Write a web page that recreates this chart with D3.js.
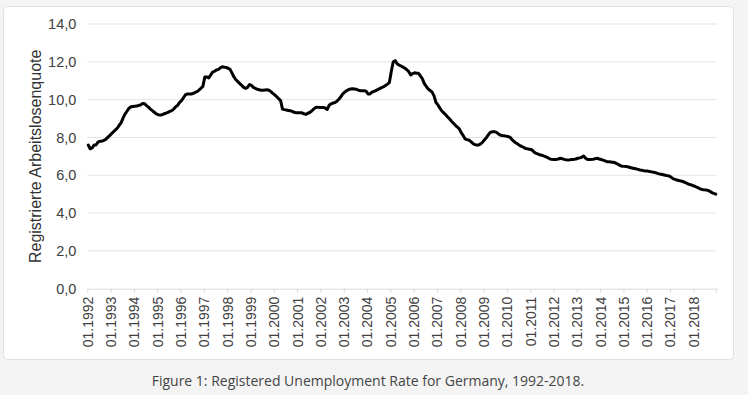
<!DOCTYPE html>
<html>
<head>
<meta charset="utf-8">
<script src="https://cdn.jsdelivr.net/npm/d3@7"></script>
<style>
  html, body { margin: 0; padding: 0; background: #f4f4f4; }
  svg { display: block; }
</style>
</head>
<body>
<svg id="chart"></svg>
<script>
// Registered unemployment rate, monthly, 01.1992 - 12.2018 (one row per year)
const rates = [
  7.6, 7.4, 7.45, 7.6, 7.6, 7.75, 7.8, 7.8, 7.85, 7.9, 8.0, 8.1,
  8.2, 8.3, 8.4, 8.5, 8.65, 8.8, 9.05, 9.25, 9.4, 9.55, 9.62, 9.64,
  9.65, 9.66, 9.7, 9.72, 9.8, 9.78, 9.68, 9.6, 9.5, 9.42, 9.33, 9.25,
  9.2, 9.18, 9.2, 9.25, 9.28, 9.33, 9.38, 9.42, 9.5, 9.62, 9.7, 9.85,
  9.95, 10.1, 10.25, 10.3, 10.3, 10.3, 10.32, 10.38, 10.42, 10.5, 10.6, 10.7,
  11.2, 11.2, 11.15, 11.3, 11.45, 11.5, 11.57, 11.6, 11.68, 11.74, 11.72, 11.7,
  11.66, 11.6, 11.4, 11.2, 11.05, 10.95, 10.85, 10.75, 10.65, 10.6, 10.65, 10.8,
  10.75, 10.65, 10.6, 10.55, 10.52, 10.5, 10.5, 10.51, 10.52, 10.5, 10.42, 10.33,
  10.25, 10.15, 10.05, 9.95, 9.5, 9.47, 9.45, 9.43, 9.41, 9.38, 9.33, 9.31,
  9.31, 9.31, 9.3, 9.25, 9.22, 9.28, 9.32, 9.4, 9.5, 9.58, 9.6, 9.59,
  9.59, 9.59, 9.56, 9.48, 9.7, 9.78, 9.82, 9.85, 9.92, 10.02, 10.15, 10.3,
  10.4, 10.47, 10.53, 10.56, 10.57, 10.56, 10.55, 10.5, 10.47, 10.47, 10.47, 10.45,
  10.3, 10.3, 10.4, 10.43, 10.48, 10.53, 10.58, 10.63, 10.68, 10.75, 10.82, 10.9,
  11.5, 12.0, 12.06, 11.9, 11.83, 11.78, 11.72, 11.66, 11.58, 11.48, 11.3, 11.38,
  11.42, 11.4, 11.39, 11.25, 11.1, 10.85, 10.7, 10.56, 10.48, 10.4, 10.2, 9.85,
  9.72, 9.55, 9.4, 9.3, 9.2, 9.08, 8.98, 8.86, 8.75, 8.64, 8.55, 8.45,
  8.25, 8.1, 7.92, 7.88, 7.86, 7.78, 7.68, 7.62, 7.6, 7.6, 7.66, 7.75,
  7.88, 8.0, 8.15, 8.27, 8.3, 8.3, 8.28, 8.2, 8.13, 8.1, 8.09, 8.07,
  8.05, 8.02, 7.9, 7.8, 7.72, 7.66, 7.58, 7.53, 7.48, 7.42, 7.4, 7.38,
  7.36, 7.28, 7.18, 7.14, 7.1, 7.07, 7.04, 7.0, 6.96, 6.9, 6.85, 6.84,
  6.84, 6.84, 6.86, 6.9, 6.87, 6.84, 6.82, 6.81, 6.82, 6.84, 6.84, 6.86,
  6.9, 6.92, 6.95, 7.02, 6.9, 6.84, 6.84, 6.84, 6.85, 6.88, 6.9, 6.86,
  6.83, 6.8, 6.76, 6.72, 6.71, 6.7, 6.69, 6.67, 6.62, 6.56, 6.5, 6.48,
  6.47, 6.46, 6.44, 6.41, 6.38, 6.36, 6.34, 6.31, 6.28, 6.26, 6.24, 6.23,
  6.22, 6.2, 6.18, 6.16, 6.14, 6.1, 6.07, 6.05, 6.03, 6.0, 5.98, 5.96,
  5.9, 5.82, 5.78, 5.75, 5.72, 5.7, 5.67, 5.63, 5.58, 5.53, 5.5, 5.46,
  5.43, 5.38, 5.33, 5.28, 5.25, 5.23, 5.22, 5.2, 5.15, 5.08, 5.04, 5.0
]

const tickYears = [1992, 1993, 1994, 1995, 1996, 1997, 1998, 1999, 2000, 2001, 2002, 2003, 2004,
  2005, 2006, 2007, 2008, 2009, 2010, 2011, 2012, 2013, 2014, 2015, 2016, 2017, 2018]
const yTicks = [0, 2, 4, 6, 8, 10, 12, 14]
const yTitle = 'Registrierte Arbeitslosenquote'
const caption = 'Figure 1: Registered Unemployment Rate for Germany, 1992-2018.'

const width = 748
const height = 395
const plot = { left: 87.3, right: 716.7, top: 24, bottom: 288.7 }

const svg = d3.select('#chart')
  .attr('width', width)
  .attr('height', height)

// Card
svg.append('rect')
  .attr('x', 3.5)
  .attr('y', 6.5)
  .attr('width', 730)
  .attr('height', 353)
  .attr('rx', 4)
  .attr('fill', '#fff')
  .attr('stroke', '#e0e0e0')

const xScale = d3.scaleLinear()
  .domain([0, rates.length])
  .range([plot.left, plot.right])

const yScale = d3.scaleLinear()
  .domain([0, 14])
  .range([plot.bottom, plot.top])

// Gridlines
svg.append('g')
  .selectAll('line')
  .data(yTicks.filter(d => d > 0))
  .enter().append('line')
  .attr('x1', plot.left)
  .attr('x2', plot.right)
  .attr('y1', d => yScale(d))
  .attr('y2', d => yScale(d))
  .attr('stroke', '#e3e3e3')
  .attr('stroke-width', 1)

// Y axis labels
const yAxis = svg.append('g')
  .attr('transform', `translate(${plot.left},0)`)
  .call(d3.axisLeft(yScale).tickValues(yTicks).tickSize(0).tickPadding(11)
    .tickFormat(d => d3.format('.1f')(d).replace('.', ',')))
yAxis.select('.domain').remove()
yAxis.selectAll('text')
  .attr('font-family', 'Liberation Sans, Arial, sans-serif')
  .attr('font-size', '14.5px')
  .attr('fill', '#404040')

// X axis
const xAxis = svg.append('g')
  .attr('transform', `translate(0,${plot.bottom})`)
  .call(d3.axisBottom(xScale)
    .tickValues(tickYears.map((y, i) => i * 12))
    .tickSize(4)
    .tickSizeOuter(0)
    .tickFormat((d, i) => '01.' + tickYears[i]))
xAxis.select('.domain').attr('stroke', '#d9d9d9')
xAxis.selectAll('.tick line').attr('stroke', '#d9d9d9')
xAxis.selectAll('text')
  .attr('font-family', 'Liberation Sans, Arial, sans-serif')
  .attr('font-size', '14px')
  .attr('fill', '#404040')
  .attr('transform', 'rotate(-90)')
  .attr('text-anchor', 'end')
  .attr('dy', '0.35em')
  .attr('x', -8)
  .attr('y', 0)

// right end tick
svg.append('line')
  .attr('x1', plot.right).attr('x2', plot.right)
  .attr('y1', plot.bottom).attr('y2', plot.bottom + 4)
  .attr('stroke', '#d9d9d9')

// Y title
svg.append('text')
  .attr('transform', `translate(41,${(plot.top + plot.bottom) / 2}) rotate(-90)`)
  .attr('text-anchor', 'middle')
  .attr('font-family', 'Liberation Sans, Arial, sans-serif')
  .attr('font-size', '16px')
  .attr('fill', '#333')
  .text(yTitle)

// Line
const line = d3.line()
  .x((d, i) => xScale(i + 0.5))
  .y(d => yScale(d))

svg.append('path')
  .datum(rates)
  .attr('d', line)
  .attr('fill', 'none')
  .attr('stroke', '#000')
  .attr('stroke-width', 3)
  .attr('stroke-linejoin', 'round')
  .attr('stroke-linecap', 'round')

// Caption
svg.append('text')
  .attr('x', 368)
  .attr('y', 386)
  .attr('text-anchor', 'middle')
  .attr('font-family', 'Open Sans, sans-serif')
  .attr('font-size', '14px')
  .attr('fill', '#444')
  .text(caption)
</script>
</body>
</html>
